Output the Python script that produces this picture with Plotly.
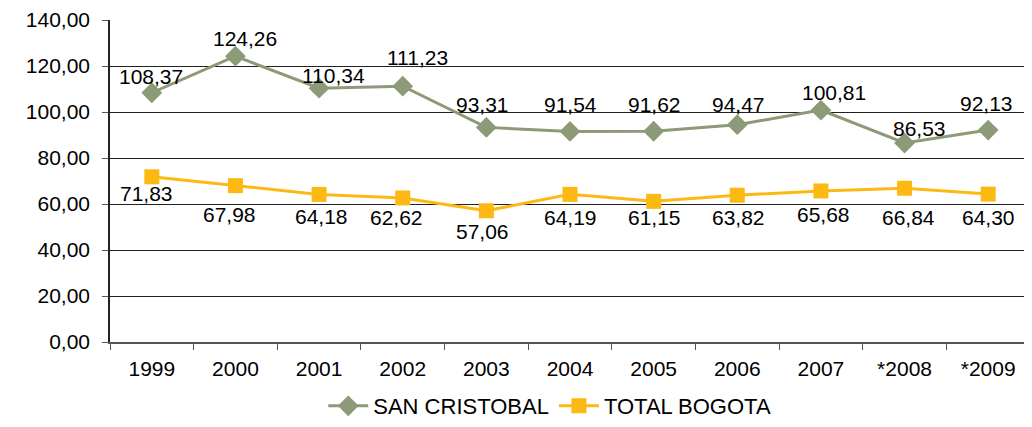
import plotly.graph_objects as go

years = ['1999', '2000', '2001', '2002', '2003', '2004', '2005', '2006', '2007', '*2008', '*2009']
san_cristobal = [108.37, 124.26, 110.34, 111.23, 93.31, 91.54, 91.62, 94.47, 100.81, 86.53, 92.13]
total_bogota = [71.83, 67.98, 64.18, 62.62, 57.06, 64.19, 61.15, 63.82, 65.68, 66.84, 64.30]

# label offsets (px) as placed in the original
sc_dx = [-1, 10, 14, 15, -4, 0, 1, 1, 13, 15, -2]
sc_dy = [16, 18, 13, 29, 23, 27, 27, 20, 18, 14, 27]
tb_dx = [-5, -6, 2, -6, -4, 0, 1, 1, 3, 4, 0]
tb_dy = [-17, -29, -22, -20, -21, -23, -16, -22, -24, -29, -23]

FONT = 'Liberation Sans, Arial, sans-serif'
GREEN = '#8C9A78'
GOLD = '#FDB913'

xs = list(range(len(years)))

fig = go.Figure()

fig.add_trace(go.Scatter(
    x=xs, y=san_cristobal, mode='lines+markers', name='SAN CRISTOBAL',
    line=dict(color=GREEN, width=3),
    marker=dict(symbol='diamond', size=16, color=GREEN)
))

fig.add_trace(go.Scatter(
    x=xs, y=total_bogota, mode='lines+markers', name='TOTAL BOGOTA',
    line=dict(color=GOLD, width=3),
    marker=dict(symbol='square', size=15, color=GOLD)
))

def fmt(v):
    return f'{v:.2f}'.replace('.', ',')

annotations = []
for i in xs:
    annotations.append(dict(x=i, y=san_cristobal[i], text=fmt(san_cristobal[i]),
                            showarrow=False, xshift=sc_dx[i], yshift=sc_dy[i],
                            font=dict(family=FONT, size=21, color='black')))
    annotations.append(dict(x=i, y=total_bogota[i], text=fmt(total_bogota[i]),
                            showarrow=False, xshift=tb_dx[i], yshift=tb_dy[i],
                            font=dict(family=FONT, size=21, color='black')))

# page body has an 8px margin, so the figure is a bit smaller than the window
fig.update_layout(
    width=1024, height=419,
    margin=dict(l=102, r=2, t=12, b=85),
    plot_bgcolor='white', paper_bgcolor='white',
    separators=',.',
    font=dict(family=FONT, size=21, color='black'),
    annotations=annotations,
    showlegend=True,
    legend=dict(orientation='h', x=0.478, xanchor='center', yref='container', y=-0.025,
                yanchor='bottom', font=dict(family=FONT, size=22, color='black'),
                itemwidth=40),
    xaxis=dict(
        range=[-0.5, len(years) - 0.5], tickvals=xs, ticktext=years, tickangle=0,
        showgrid=False, showline=True, linecolor='#555', linewidth=1.5, zeroline=False,
        ticks='', ticklabelstandoff=7, tickfont=dict(family=FONT, size=21), automargin=False,
        minor=dict(tickvals=[i - 0.5 for i in range(len(years) + 1)], ticks='outside',
                   ticklen=6, tickcolor='#555', showgrid=False)
    ),
    yaxis=dict(
        range=[0, 140], dtick=20, tickformat='.2f',
        showgrid=True, gridcolor='#222', gridwidth=1,
        showline=True, linecolor='#222', linewidth=1.5,
        ticks='outside', ticklen=6, tickcolor='#555', ticklabelstandoff=8,
        zeroline=False, tickfont=dict(family=FONT, size=21), automargin=False
    )
)

fig.write_html("out.html")
